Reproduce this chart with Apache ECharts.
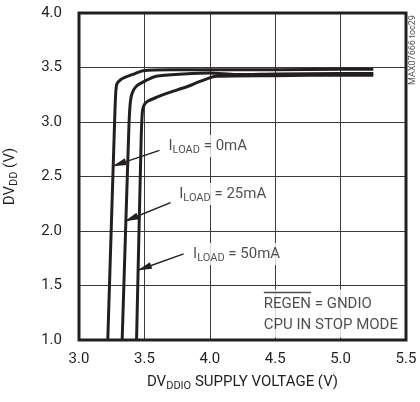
<!DOCTYPE html>
<html><head><meta charset="utf-8">
<script src="https://cdn.jsdelivr.net/npm/echarts@6/dist/echarts.min.js"></script>
<style>html,body{margin:0;padding:0;background:#fff}#c{width:420px;height:402px}</style>
</head><body><div id="c"></div>
<script>
// ---- data ----
const xTicks = [3.0, 3.5, 4.0, 4.5, 5.0, 5.5];
const yTicks = [1.0, 1.5, 2.0, 2.5, 3.0, 3.5, 4.0];

const vin0  = [3.22, 3.27, 3.28, 3.29, 3.32, 3.36, 3.42, 3.49, 3.7, 4.0, 4.5, 5.0, 5.25];
const dvdd0 = [1.0, 2.92, 3.25, 3.35, 3.39, 3.415, 3.44, 3.47, 3.48, 3.48, 3.48, 3.485, 3.485];

const vin25  = [3.33, 3.38, 3.39, 3.405, 3.44, 3.51, 3.59, 3.8, 4.0, 4.2, 4.5, 5.0, 5.25];
const dvdd25 = [1.0, 2.9, 3.15, 3.26, 3.33, 3.38, 3.42, 3.44, 3.45, 3.435, 3.44, 3.445, 3.445];

const vin50  = [3.44, 3.475, 3.485, 3.50, 3.525, 3.6, 3.665, 3.84, 3.92, 4.05, 4.5, 5.0, 5.25];
const dvdd50 = [1.0, 2.83, 3.1, 3.16, 3.19, 3.23, 3.26, 3.33, 3.37, 3.42, 3.425, 3.43, 3.43];

const loadNames = ['0mA', '25mA', '50mA'];
const labelX = [3.669, 3.751, 3.857];
const labelY = [2.78, 2.34, 1.79];
const arrowFromX = [3.615, 3.70, 3.80];
const arrowFromY = [2.74, 2.26, 1.79];
const arrowToX = [3.257, 3.35, 3.45];
const arrowToY = [2.595, 2.09, 1.64];

const noteOver = 'REGEN';
const noteLine1Rest = ' = GNDIO';
const noteLine2 = 'CPU IN STOP MODE';
const noteX = 4.39, noteY = 1.243;

const watermark = 'MAX07666 toc29';

// ---- styles ----
const FONT = 'Roboto, "Liberation Sans", Arial, sans-serif';
const INK = '#231f20';
const FS = 15;

const zip = (xs, ys) => xs.map((x, i) => [x, ys[i]]);

const ctx = document.createElement('canvas').getContext('2d');
ctx.font = FS + 'px Roboto';
const overW = ctx.measureText(noteOver).width;

const curveStyle = { color: INK, width: 3 };
function curve(name, xs, ys) {
  return {
    type: 'line', name, data: zip(xs, ys), showSymbol: false, symbol: 'none',
    smooth: 0.25, lineStyle: curveStyle, z: 3, silent: true
  };
}

const subStyle = { fontSize: 11, lineHeight: 9, verticalAlign: 'bottom', fontFamily: FONT, color: INK };
const subRich = {
  i: { fontSize: FS, lineHeight: 20, fontFamily: FONT, color: INK },
  s: subStyle
};

const option = {
  animation: false,
  backgroundColor: '#fff',
  textStyle: { fontFamily: FONT, color: INK },
  grid: { left: 79, right: 14, top: 13, bottom: 62, show: true, borderColor: INK, borderWidth: 3, z: 10,
          containLabel: false, outerBoundsMode: 'none' },
  xAxis: {
    type: 'value', min: xTicks[0], max: xTicks[xTicks.length - 1], interval: 0.5,
    axisLine: { show: false }, axisTick: { show: false },
    splitLine: { show: true, lineStyle: { color: '#3a3a3a', width: 1 } },
    axisLabel: { fontSize: FS, color: INK, fontFamily: FONT, margin: 12, formatter: v => v.toFixed(1) },
    name: 'DV{s|DDIO} SUPPLY VOLTAGE (V)', nameLocation: 'middle', nameGap: 30,
    nameTextStyle: { fontSize: FS, color: INK, fontFamily: FONT, lineHeight: 20, rich: { s: subStyle } }
  },
  yAxis: {
    type: 'value', min: yTicks[0], max: yTicks[yTicks.length - 1], interval: 0.5,
    axisLine: { show: false }, axisTick: { show: false },
    splitLine: { show: true, lineStyle: { color: '#3a3a3a', width: 1 } },
    axisLabel: { fontSize: FS, color: INK, fontFamily: FONT, margin: 17, formatter: v => v.toFixed(1) },
    name: 'DV{s|DD} (V)', nameLocation: 'middle', nameGap: 59,
    nameTextStyle: { fontSize: FS, color: INK, fontFamily: FONT, lineHeight: 20, rich: { s: subStyle } }
  },
  series: [
    curve('0mA', vin0, dvdd0),
    curve('25mA', vin25, dvdd25),
    curve('50mA', vin50, dvdd50),
    {
      type: 'scatter', name: 'labels', symbolSize: 0, silent: true, z: 5,
      data: loadNames.map((n, i) => ({
        value: [labelX[i], labelY[i]],
        label: { formatter: '{i|I}{s|LOAD}{i| = ' + n + '}' }
      })),
      label: {
        show: true, position: 'right', distance: 0, backgroundColor: '#fff',
        padding: [1, 2, 1, 2], rich: subRich
      },
      markLine: {
        silent: true, symbol: ['none', 'triangle'], symbolSize: [7, 14],
        symbolOffset: [0, [0, 7]],
        label: { show: false },
        lineStyle: { color: INK, width: 1.5, type: 'solid' },
        data: arrowFromX.map((x, i) => [
          { coord: [x, arrowFromY[i]] },
          { coord: [arrowToX[i], arrowToY[i]] }
        ])
      }
    },
    {
      type: 'scatter', name: 'note', symbolSize: 0, silent: true, z: 5,
      data: [[noteX, noteY]],
      label: {
        show: true, position: 'right', distance: 0, backgroundColor: '#fff',
        padding: [2, 6, 2, 3],
        formatter: '{ol|}\n{a|' + noteOver + noteLine1Rest + '}\n{a|' + noteLine2 + '}',
        rich: {
          ol: { width: overW, height: 1.3, lineHeight: 2, backgroundColor: INK, align: 'left' },
          a: { fontSize: FS, lineHeight: 21, fontFamily: FONT, color: INK }
        }
      }
    }
  ],
  graphic: [{
    type: 'text', x: 413, y: 50, rotation: Math.PI / 2,
    style: { text: watermark, fontSize: 9, fontFamily: FONT, fill: '#555', align: 'center', verticalAlign: 'middle' }
  }]
};

const chart = echarts.init(document.getElementById('c'), null, { renderer: 'canvas' });
chart.setOption(option);
</script></body></html>
